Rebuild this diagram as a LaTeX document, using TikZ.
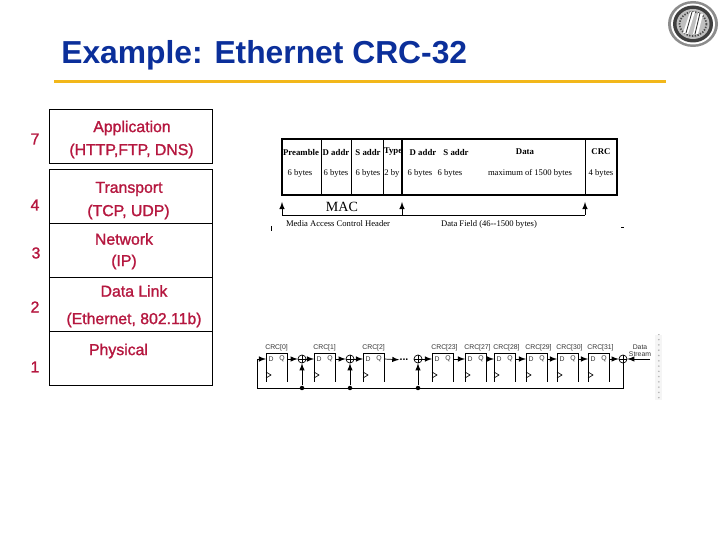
\documentclass[tikz,border=0pt]{standalone}
\usepackage{fontspec}
\setmainfont{Liberation Sans}
\newfontfamily\framefont{Liberation Serif}
\newfontfamily\layerfont[FakeBold=1.4]{Liberation Sans}
\usetikzlibrary{patterns}
\definecolor{titleblue}{HTML}{0B2F9A}
\definecolor{rulegold}{HTML}{F2B71A}
\definecolor{layerred}{HTML}{B5173F}
\tikzset{
    layerbox/.style={draw, line width=0.45pt, inner sep=0pt, minimum width=3.26cm},
    layertext/.style={text=layerred, font=\fontsize{9}{9}\selectfont\layerfont, inner sep=0pt},
    frametext/.style={font=\fontsize{4.9}{4.9}\selectfont\framefont, inner sep=0pt},
    framehead/.style={frametext, font=\fontsize{5}{5}\selectfont\framefont\bfseries},
    regbox/.style={inner sep=0pt, minimum width=0.42cm, minimum height=0.56cm},
    regtext/.style={font=\fontsize{3.9}{3.9}\selectfont, inner sep=0pt, text=black!80},
    xorgate/.style={draw, line width=0.4pt, circle, fill=white, inner sep=0pt, minimum size=0.16cm},
    joint/.style={fill, circle, inner sep=0pt, minimum size=0.09cm}
}
\begin{document}
\begin{tikzpicture}[x=0.02cm,y=-0.02cm]
    \useasboundingbox (0,0) rectangle (720,540);

    %title
    \node[text=titleblue, font=\fontsize{18.1}{18.1}\selectfont\bfseries, inner sep=0pt, anchor=west] (title) at (61,55) {Example: Ethernet CRC-32};
    \fill[rulegold] (54,80) rectangle (666,83.5);

    %logo
    \fill[black!45] (693,24) ellipse (25 and 23);
    \fill[white] (693,24) ellipse (22 and 20.5);
    \fill[black!75] (693,24) ellipse (20 and 18.5);
    \fill[black!25] (693,24) ellipse (16.5 and 15);
    \draw[black!70, line width=1pt, dash pattern=on 0.8pt off 0.8pt] (693,24) ellipse (13.5 and 12);
    \fill[white] (683,33) -- (690,12) -- (695,12) -- (688,34) -- cycle;
    \fill[white] (693,34) -- (698,13) -- (703,14) -- (698,34) -- cycle;
    \draw[black!80, line width=0.5pt] (686,33) -- (692,12) (695,34) -- (700,13);

    %layers
    \node[layerbox, minimum height=1.08cm] (app) at (130.5,136) {};
    \node[layerbox, minimum height=1.08cm] (trans) at (130.5,196) {};
    \node[layerbox, minimum height=1.08cm] (net) at (130.5,250) {};
    \node[layerbox, minimum height=1.08cm] (link) at (130.5,304) {};
    \node[layerbox, minimum height=1.08cm] (phys) at (130.5,358) {};

    \node[layertext] (appa) at (132,128) {Application};
    \node[layertext] (appb) at (131.5,151) {(HTTP,FTP, DNS)};
    \node[layertext] (transa) at (129,189) {Transport};
    \node[layertext] (transb) at (128.5,212) {(TCP, UDP)};
    \node[layertext] (neta) at (124,239) {Network};
    \node[layertext] (netb) at (124,262) {(IP)};
    \node[layertext] (linka) at (134,291) {Data Link};
    \node[layertext] (linkb) at (134,320) {(Ethernet, 802.11b)};
    \node[layertext] (physa) at (118.5,351) {Physical};

    \node[layertext] (seven) at (35,139) {7};
    \node[layertext] (four) at (35,205) {4};
    \node[layertext] (three) at (36,253) {3};
    \node[layertext] (two) at (35,307) {2};
    \node[layertext] (one) at (35,367) {1};

    %frame
    \draw[line width=1.1pt] (282,139) rectangle (617,195);
    \foreach \x in {321,351,383,585}
        \draw[line width=0.5pt] (\x,139) -- (\x,195);
    \draw[line width=0.8pt] (402,139) -- (402,195);

    \foreach \name/\x/\y/\top/\bot in {pre/301/300/Preamble/6 bytes, da/336/336/D addr/6 bytes, sa/368/368/S addr/6 bytes, ty/393/392/Type/2 by, db/423/420/D addr/6 bytes, sb/456/450/S addr/6 bytes, dat/525/530/Data/maximum of 1500 bytes, crc/601/601/CRC/4 bytes}{
        \node[framehead] (h\name) at (\x,152) {\top};
        \node[frametext] (b\name) at (\y,173) {\bot};
    }

    %brackets
    \coordinate (maca) at (282,215);
    \coordinate (macb) at (402,215);
    \coordinate (macc) at (585,215);
    \draw[-latex] (maca) -- (282,202);
    \draw[-latex] (macb) -- (402,202);
    \draw[-latex] (macc) -- (585,202);
    \draw[line width=0.5pt] (maca) -- (macc);
    \node[font=\fontsize{8}{8}\selectfont\framefont, inner sep=0pt] (mac) at (342,207) {MAC};
    \node[frametext] (hdr) at (338,224) {Media Access Control Header};
    \node[frametext] (fld) at (489,224) {Data Field (46--1500 bytes)};
    \draw[line width=0.5pt] (271,226) -- (271,231);
    \draw[line width=0.5pt] (621,227) -- (624,227);

    %registers
    \foreach \name/\x/\lab in {0/266/CRC[0], 1/314/CRC[1], 2/363/CRC[2], 23/432/CRC[23], 27/465/CRC[27], 28/494/CRC[28], 29/526/CRC[29], 30/557/CRC[30], 31/588/CRC[31]}{
        \node[regbox, anchor=north west] (r\name) at (\x,353) {};
        \draw[line width=0.5pt] (r\name.south west) |- (r\name.north east) -- (r\name.south east);
        \node[regtext, anchor=west] (n\name) at (\x-1,348) {\lab};
        \node[regtext] (d\name) at (\x+5,359) {D};
        \node[regtext] (q\name) at (\x+16,359) {Q};
        \draw[line width=0.35pt] (\x,372) -- (\x+5,375) -- (\x,378);
        \coordinate (in\name) at (\x,359);
        \coordinate (out\name) at (\x+21,359);
    }

    %xor gates
    \foreach \name/\x in {a/302,b/350,c/418,e/623}{
        \node[xorgate] (x\name) at (\x,359) {};
        \draw[line width=0.35pt] (x\name.north) -- (x\name.south) (x\name.west) -- (x\name.east);
    }
    \foreach \name/\x in {a/302,b/350,c/418}
        \node[joint] (j\name) at (\x,388) {};
    \node[font=\fontsize{6}{6}\selectfont\bfseries, inner sep=0pt] (more) at (404,360) {...};
    \coordinate (fbleft) at (257,388);
    \coordinate (fbup) at (257,359);
    \coordinate (datain) at (650,359);

    %wires
    \draw[-latex] (out0) -- (xa);
    \draw[-latex] (xa) -- (in1);
    \draw[-latex] (out1) -- (xb);
    \draw[-latex] (xb) -- (in2);
    \draw[-latex] (out2) -- (more);
    \draw[-latex] (xc) -- (in23);
    \draw[-latex] (out23) -- (in27);
    \draw[-latex] (out27) -- (in28);
    \draw[-latex] (out28) -- (in29);
    \draw[-latex] (out29) -- (in30);
    \draw[-latex] (out30) -- (in31);
    \draw[-latex] (out31) -- (xe);
    \draw[-latex] (datain) -- (xe);
    \draw[-latex] (ja) -- (xa);
    \draw[-latex] (jb) -- (xb);
    \draw[-latex] (jc) -- (xc);
    \draw[line width=0.5pt] (xe) |- (fbleft) -- (fbup);
    \draw[-latex] (fbup) -- (in0);

    \node[regtext] (dataa) at (640,347) {Data};
    \node[regtext] (datab) at (640,354) {Stream};

    %speckled strip
    \fill[black!4] (655,335) rectangle (662,400);
    \fill[pattern=dots, pattern color=black!30] (655,335) rectangle (662,400);
\end{tikzpicture}
\end{document}
